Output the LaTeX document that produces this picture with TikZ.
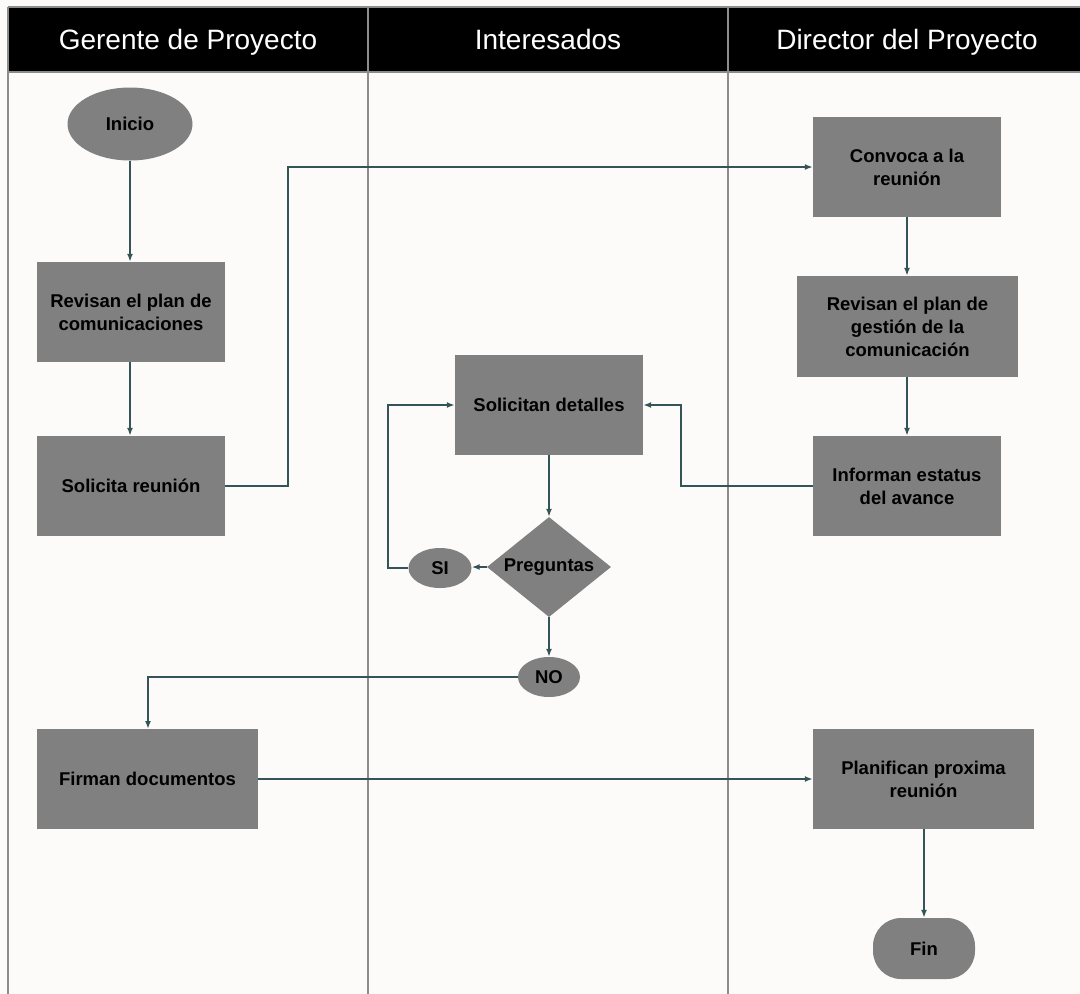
\documentclass[tikz,border=0pt]{standalone}
\usepackage{fontspec}
\setmainfont{Liberation Sans}
\usetikzlibrary{shapes.geometric,arrows.meta}
\definecolor{paper}{RGB}{252,251,249}
\definecolor{boxgray}{RGB}{128,128,128}
\definecolor{lanegray}{RGB}{140,140,140}
\definecolor{flow}{RGB}{52,84,88}
\tikzset{
  boxfont/.style={font=\bfseries\fontsize{18.5}{23}\selectfont, text=black},
  procbox/.style={rectangle, fill=boxgray, align=center, inner sep=2pt, boxfont},
  termell/.style={ellipse, fill=boxgray, inner sep=0pt, boxfont},
  decide/.style={diamond, fill=boxgray, inner sep=0pt},
  flowline/.style={draw=flow, line width=1.6pt, -{Latex[length=8pt,width=6pt]}},
  lanehead/.style={text=white, anchor=base, font=\fontsize{28}{32}\selectfont},
  laneline/.style={draw=lanegray, line width=1.4pt}
}
\begin{document}
\begin{tikzpicture}[x=1pt,y=-1pt]
\useasboundingbox (0,0) rectangle (1080,994);
\fill[paper] (0,0) rectangle (1080,994);

% swimlane frame and header
\fill[black] (8,7) rectangle (1080,72);
\draw[laneline] (8,7) -- (1080,7);
\draw[laneline] (8,72) -- (1080,72);
\draw[laneline] (8,7) -- (8,994);
\draw[laneline] (368,7) -- (368,994);
\draw[laneline] (728,7) -- (728,994);
\node[lanehead] (h1) at (188,49.5) {Gerente de Proyecto};
\node[lanehead] (h2) at (548,49.5) {Interesados};
\node[lanehead] (h3) at (907,49.5) {Director del Proyecto};

% Gerente de Proyecto lane
\node[termell, minimum width=125pt, minimum height=73pt] (inicio) at (130,124) {Inicio};
\node[procbox, minimum width=188pt, minimum height=100pt] (revcom) at (131,312) {Revisan el plan de\\comunicaciones};
\node[procbox, minimum width=188pt, minimum height=100pt] (solreu) at (131,486) {Solicita reunión};
\node[procbox, minimum width=221pt, minimum height=100pt] (firman) at (147.5,779) {Firman documentos};

% Interesados lane
\node[procbox, minimum width=188pt, minimum height=100pt] (soldet) at (549,405) {Solicitan detalles};
\node[decide, minimum width=124pt, minimum height=100pt,
      label={[boxfont]center:Preguntas}] (preg) at (549,567) {};
\node[termell, minimum width=63pt, minimum height=40pt] (si) at (440,568) {SI};
\node[termell, minimum width=62pt, minimum height=40pt] (no) at (549,677) {NO};

% Director del Proyecto lane
\node[procbox, minimum width=188pt, minimum height=100pt] (convoca) at (907,167) {Convoca a la\\reunión};
\node[procbox, minimum width=221pt, minimum height=101pt] (revgest) at (907.5,326.5) {Revisan el plan de\\gestión de la\\comunicación};
\node[procbox, minimum width=188pt, minimum height=100pt] (informan) at (907,486) {Informan estatus\\del avance};
\node[procbox, minimum width=221pt, minimum height=100pt] (planif) at (923.5,779) {Planifican proxima\\reunión};
\node[procbox, rounded corners=28pt, minimum width=102pt, minimum height=61pt] (fin) at (924,948.5) {Fin};

% connectors
\draw[flowline] (inicio) -- (inicio |- revcom.north);
\draw[flowline] (revcom.south -| inicio) -- (inicio |- solreu.north);
\draw[flowline] (solreu.east) -- (288,486) -- (288,167) -- (convoca.west);
\draw[flowline] (convoca) -- (revgest.north -| convoca);
\draw[flowline] (revgest.south -| convoca) -- (informan.north);
\draw[flowline] (informan.west) -- (681,486) -- (681,405) -- (soldet.east);
\draw[flowline] (soldet) -- (preg.north);
\draw[flowline] (preg.west) -- (si.east |- preg.west);
\draw[flowline] (si.west) -- (388,568) -- (388,405) -- (soldet.west);
\draw[flowline] (preg.south) -- (no.north);
\draw[flowline] (no.west) -- (148,677) -- (148,729);
\draw[flowline] (firman.east) -- (planif.west);
\draw[flowline] (planif.south -| fin) -- (fin.north);
\end{tikzpicture}
\end{document}
